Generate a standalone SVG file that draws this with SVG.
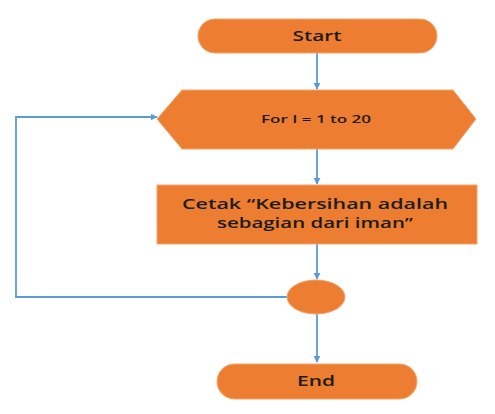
<svg xmlns="http://www.w3.org/2000/svg" width="495" height="414" viewBox="0 0 495 414">
<style>
.node{fill:#ED7D31;stroke:#F2A56F;stroke-width:1}
.lbl{font-family:"Open Sans","Liberation Sans",sans-serif;fill:#1c1c1c;text-anchor:middle;font-weight:600}
.conn{fill:none;stroke:#5B9BD5;stroke-width:1.8}
</style>
<defs>
<marker id="arr" viewBox="0 0 10 10" refX="9" refY="5" markerWidth="4" markerHeight="4" orient="auto" markerUnits="strokeWidth">
<path d="M0,0 L10,5 L0,10 z" fill="#5B9BD5"/>
</marker>
</defs>
<rect width="495" height="414" fill="#ffffff"/>
<g id="connectors">
<line class="conn" x1="317" y1="53" x2="317" y2="89" marker-end="url(#arr)"/>
<line class="conn" x1="317" y1="149" x2="317" y2="184" marker-end="url(#arr)"/>
<line class="conn" x1="317" y1="244" x2="317" y2="279" marker-end="url(#arr)"/>
<line class="conn" x1="317" y1="314" x2="317" y2="362" marker-end="url(#arr)"/>
<polyline class="conn" points="287,297 16,297 16,117 157,117" marker-end="url(#arr)"/>
</g>
<g id="start">
<rect class="node" x="198" y="19" width="239" height="34" rx="17" ry="17"/>
<text class="lbl" x="317" y="41" font-size="15" textLength="49" lengthAdjust="spacingAndGlyphs">Start</text>
</g>
<g id="loop">
<polygon class="node" points="157,119 182,90 453,90 476,119 453,149 182,149"/>
<text class="lbl" x="316" y="123" font-size="11" textLength="110" lengthAdjust="spacingAndGlyphs">For I = 1 to 20</text>
</g>
<g id="print">
<rect class="node" x="157" y="185" width="320" height="59"/>
<text class="lbl" x="315" y="209" font-size="14" textLength="266" lengthAdjust="spacingAndGlyphs">Cetak “Kebersihan adalah</text>
<text class="lbl" x="315" y="228" font-size="14" textLength="196" lengthAdjust="spacingAndGlyphs">sebagian dari iman”</text>
</g>
<g id="connector-node">
<ellipse class="node" cx="316" cy="297" rx="29" ry="17"/>
</g>
<g id="end">
<rect class="node" x="217" y="364" width="200" height="35" rx="17.5" ry="17.5"/>
<text class="lbl" x="316" y="386" font-size="15" textLength="38" lengthAdjust="spacingAndGlyphs">End</text>
</g>
</svg>
